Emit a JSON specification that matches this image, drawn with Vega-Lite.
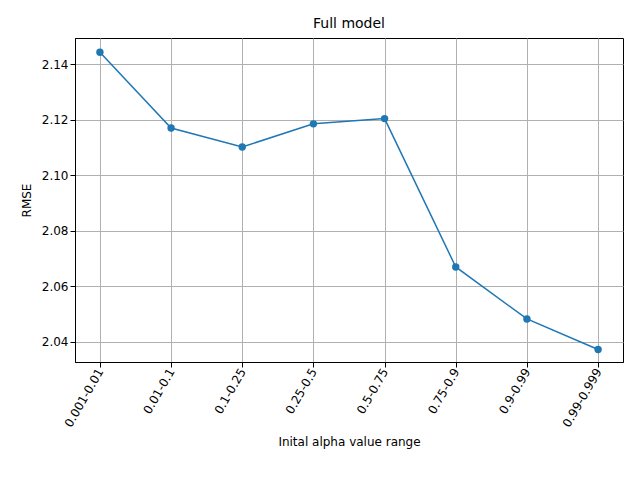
{
  "$schema": "https://vega.github.io/schema/vega-lite/v6.json",
  "autosize": {"type": "none"},
  "padding": {"left": 75, "top": 38, "right": 17, "bottom": 118},
  "width": 548,
  "height": 324,
  "config": {
    "font": "DejaVu Sans",
    "view": {"stroke": "black", "strokeWidth": 1},
    "axis": {"labelFont": "DejaVu Sans", "titleFont": "DejaVu Sans", "labelFontSize": 12, "titleFontSize": 12, "titleFontWeight": "normal", "labelColor": "black", "titleColor": "black", "tickColor": "black", "domainColor": "black", "gridColor": "#b0b0b0", "grid": true, "tickSize": 5}
  },
  "title": {"text": "Full model", "font": "DejaVu Sans", "fontSize": 14, "fontWeight": "normal", "offset": 7},
  "data": {"values": [
    {"range": "0.001-0.01", "rmse": 2.1443},
    {"range": "0.01-0.1", "rmse": 2.117},
    {"range": "0.1-0.25", "rmse": 2.1102},
    {"range": "0.25-0.5", "rmse": 2.1185},
    {"range": "0.5-0.75", "rmse": 2.1204},
    {"range": "0.75-0.9", "rmse": 2.067},
    {"range": "0.9-0.99", "rmse": 2.0483},
    {"range": "0.99-0.999", "rmse": 2.0373}
  ]},
  "mark": {"type": "line", "color": "#1f77b4", "strokeWidth": 1.5, "point": {"filled": true, "size": 55, "color": "#1f77b4", "opacity": 1}},
  "encoding": {
    "x": {"field": "range", "type": "ordinal", "sort": null, "title": "Inital alpha value range",
      "scale": {"type": "point", "padding": 0.35},
      "axis": {"labelAngle": -60, "labelAlign": "right", "labelBaseline": "middle", "titlePadding": 8}},
    "y": {"field": "rmse", "type": "quantitative", "title": "RMSE",
      "scale": {"domain": [2.0328, 2.1494], "nice": false, "zero": false},
      "axis": {"values": [2.04, 2.06, 2.08, 2.1, 2.12, 2.14], "format": ".2f", "titlePadding": 8}}
  }
}
